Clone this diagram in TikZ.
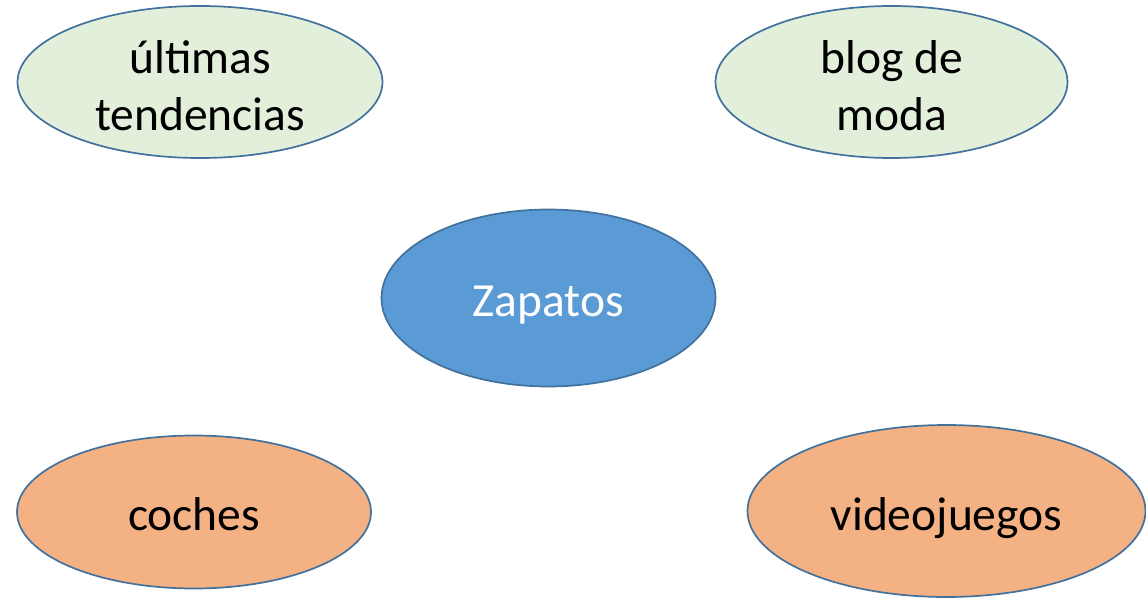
\documentclass[tikz,border=0pt]{standalone}
\usepackage{fontspec}
\setmainfont{Carlito}
\usetikzlibrary{shapes.geometric}
\definecolor{edgeblue}{HTML}{41719C}
\definecolor{lightgreen}{HTML}{E2EFDA}
\definecolor{midblue}{HTML}{5B9BD5}
\definecolor{peach}{HTML}{F4B183}
\newcommand{\lowtext}[2][13pt]{\raisebox{-#1}[0pt][0pt]{\begin{tabular}{@{}c@{}}#2\end{tabular}}}
\tikzset{
  oval/.style={ellipse, draw=edgeblue, line width=1.7pt, inner sep=0pt,
    font=\fontsize{47.5}{56.5}\selectfont, text=black},
  greenoval/.style={oval, fill=lightgreen},
  blueoval/.style={oval, fill=midblue, text=white},
  orangeoval/.style={oval, fill=peach}
}
\begin{document}
\begin{tikzpicture}[x=1pt,y=-1pt]
\useasboundingbox (0,0) rectangle (1146,599);
\node[greenoval, minimum width=365pt, minimum height=152pt] (ult) at (200,82) {\lowtext[15pt]{últimas\\tendencias}};
\node[greenoval, minimum width=352pt, minimum height=152pt] (blog) at (891.5,82) {\lowtext[15pt]{blog de\\moda}};
\node[blueoval, minimum width=334pt, minimum height=177pt] (zap) at (548.5,298) {\lowtext{Zapatos}};
\node[orangeoval, minimum width=354pt, minimum height=153pt] (coch) at (194,512) {\lowtext{coches}};
\node[orangeoval, minimum width=398pt, minimum height=172pt] (video) at (946.5,511) {\lowtext[14pt]{videojuegos}};
\end{tikzpicture}
\end{document}
